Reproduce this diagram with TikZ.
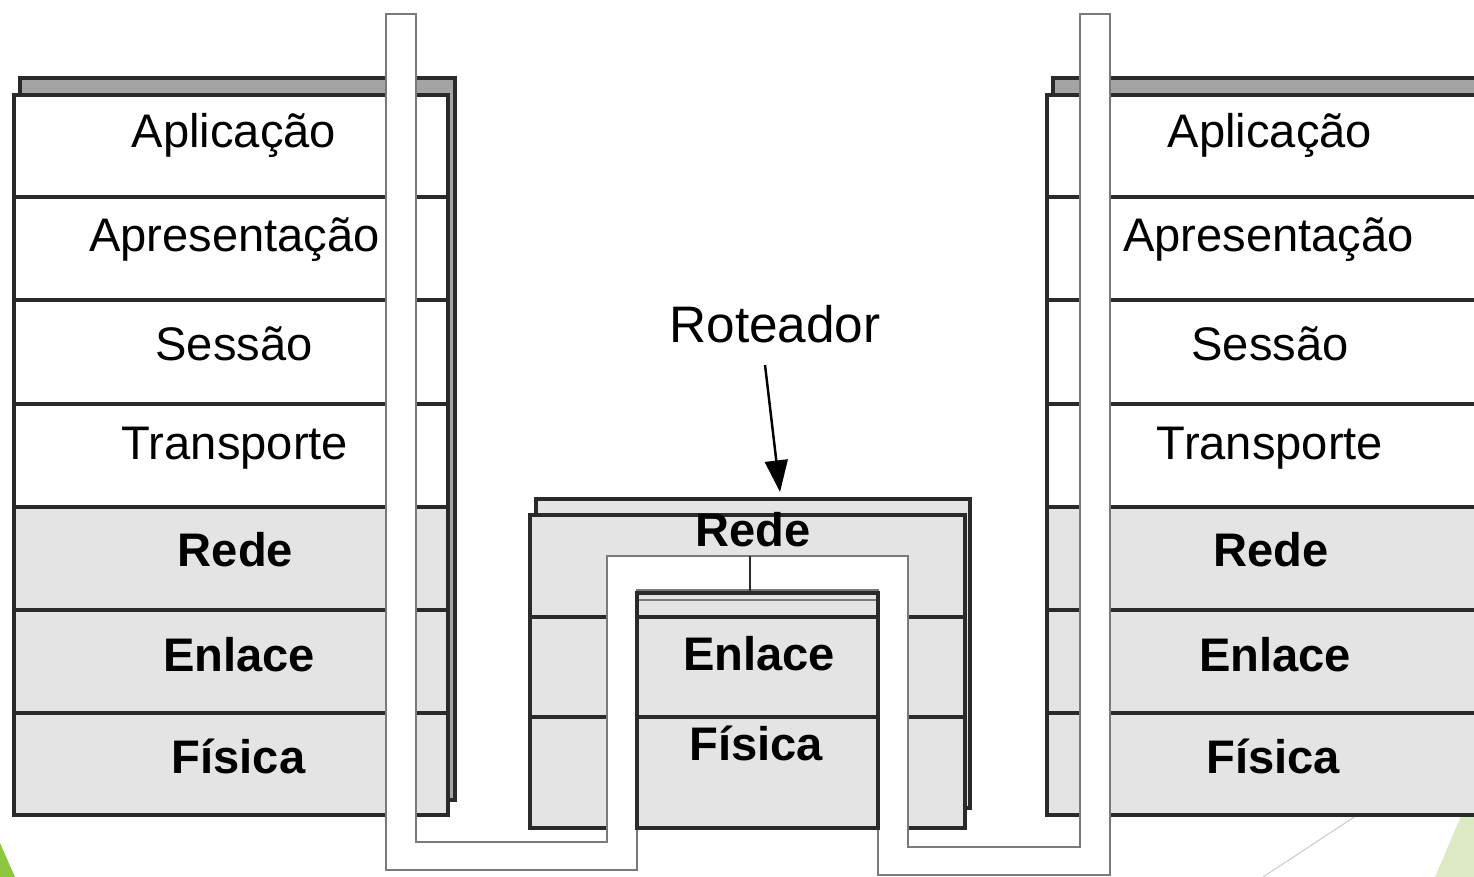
\documentclass[tikz,border=0pt]{standalone}
\usepackage{fontspec}
\setmainfont{Liberation Sans}
\usetikzlibrary{arrows.meta}
\definecolor{lay}{HTML}{E4E4E4}
\definecolor{strip}{HTML}{A4A4A4}
\definecolor{edge}{HTML}{2A2A2A}
\definecolor{pipeline}{HTML}{7A7A7A}
\definecolor{greenA}{HTML}{8DC63F}
\definecolor{greenB}{HTML}{DDE9C3}
\begin{document}
\begin{tikzpicture}[x=0.01cm,y=-0.01cm,
  backbox/.style={draw=edge, line width=0.9pt, fill=strip},
  wlayer/.style={draw=edge, line width=0.9pt, fill=white},
  glayer/.style={draw=edge, line width=0.9pt, fill=lay},
  sepline/.style={draw=edge, line width=0.9pt},
  pipe/.style={draw=pipeline, line width=0.7pt, fill=white},
  lbl/.style={inner sep=0pt, anchor=base, font=\fontsize{13.4}{16}\selectfont},
  blbl/.style={inner sep=0pt, anchor=base, font=\fontsize{13.4}{16}\selectfont\bfseries},
]
\path[use as bounding box] (0,0) rectangle (1474,877);
\clip (0,0) rectangle (1474,877);
% slide decorations
\fill[greenA] (0,843) -- (15,877) -- (0,877) -- cycle;
\fill[greenB] (1472,790) -- (1474,790) -- (1474,877) -- (1435,877) -- cycle;
\draw[black!20, line width=0.3pt] (1380,800) -- (1263,877);
% left stack
\draw[backbox] (20,78) rectangle (455,800);
\foreach \a/\b in {95/197,197/300,300/404,404/507}
  \draw[wlayer] (14,\a) rectangle (448,\b);
\foreach \a/\b in {507/610,610/713,713/815}
  \draw[glayer] (14,\a) rectangle (448,\b);
% right stack
\draw[backbox] (1053,78) rectangle (1530,800);
\foreach \a/\b in {95/197,197/300,300/404,404/507}
  \draw[wlayer] (1047,\a) rectangle (1520,\b);
\foreach \a/\b in {507/610,610/713,713/815}
  \draw[glayer] (1047,\a) rectangle (1520,\b);
% router
\draw[backbox, fill=lay] (536,499) rectangle (970,808);
\draw[glayer] (530,515) rectangle (965,828);
\draw[sepline] (530,617) -- (965,617) (530,717) -- (965,717);
% pipe
\draw[pipe] (386,14) -- (416,14) -- (416,842) -- (607,842) -- (607,556)
  -- (908,556) -- (908,847) -- (1080,847) -- (1080,14) -- (1110,14)
  -- (1110,875) -- (878,875) -- (878,590) -- (637,590) -- (637,870)
  -- (386,870) -- cycle;
% inner router box
\draw[sepline] (637,593) rectangle (878,828);
\draw[pipeline, line width=0.5pt] (639,600) -- (876,600);
\draw[sepline, line width=0.7pt] (750,556) -- (750,593);
% labels left
\node[lbl] (la) at (234,148) {Aplicação};
\node[lbl] (lp) at (234.5,252) {Apresentação};
\node[lbl] (ls) at (234,361) {Sessão};
\node[lbl] (lt) at (235,460) {Transporte};
\node[blbl] (lr) at (235.5,567) {Rede};
\node[blbl] (le) at (239,671) {Enlace};
\node[blbl] (lf) at (238.5,773) {Física};
% labels right
\node[lbl] (ra) at (1270,148) {Aplicação};
\node[lbl] (rp) at (1268.5,252) {Apresentação};
\node[lbl] (rs) at (1270,361) {Sessão};
\node[lbl] (rt) at (1270,460) {Transporte};
\node[blbl] (rr) at (1271,567) {Rede};
\node[blbl] (re) at (1275,671) {Enlace};
\node[blbl] (rf) at (1273,773) {Física};
% router labels
\node[blbl] (mr) at (753,547) {Rede};
\node[blbl] (me) at (759,670) {Enlace};
\node[blbl] (mf) at (756,760) {Física};
\node[inner sep=0pt, anchor=base, font=\fontsize{14.6}{17}\selectfont] (rot) at (775,343) {Roteador};
\coordinate (arrs) at (765,365);
\coordinate (arre) at (780,492);
\draw[-{Triangle[length=9pt,width=6.5pt]}, line width=0.7pt] (arrs) -- (arre);
\end{tikzpicture}
\end{document}
